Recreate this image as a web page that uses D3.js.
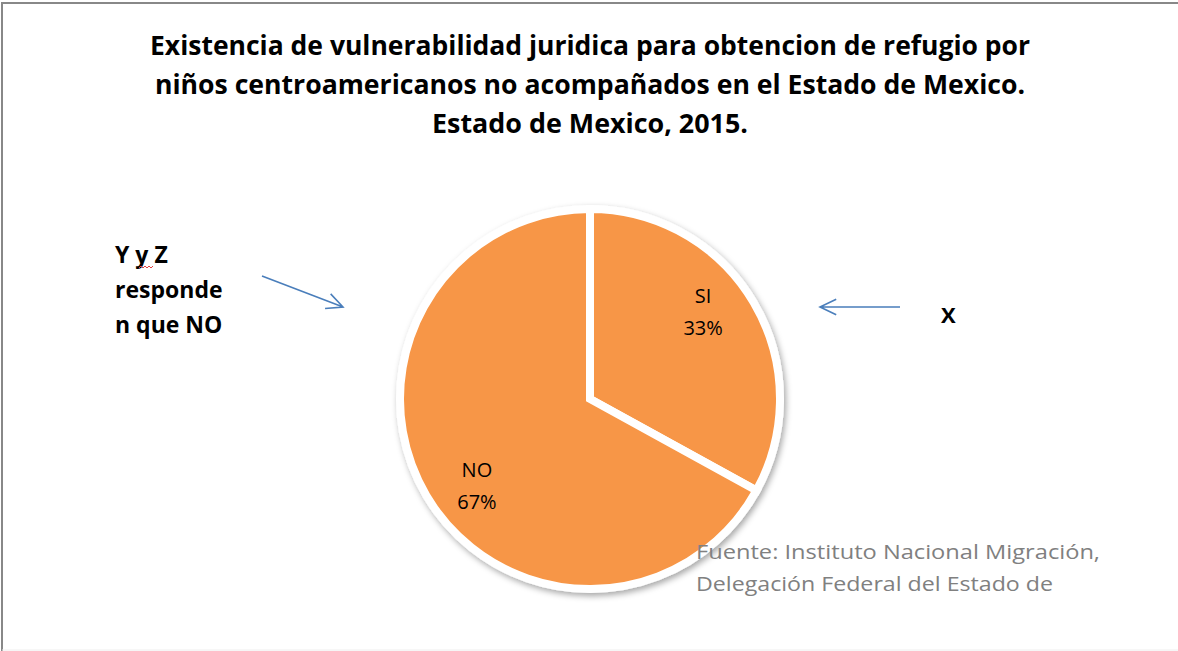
<!DOCTYPE html>
<html>
<head>
<meta charset="utf-8">
<script src="https://cdn.jsdelivr.net/npm/d3@7"></script>
<style>
  body { margin: 0; background: #fff; }
  svg { display: block; }
</style>
</head>
<body>
<div class="chart"></div>
<script>
const WIDTH = 1178, HEIGHT = 651;

const categories = ["SI", "NO"];
const values = [33, 67];
const titleLines = [
  "Existencia de vulnerabilidad juridica para obtencion de refugio por",
  "niños centroamericanos no acompañados en el Estado de Mexico.",
  "Estado de Mexico, 2015."
];
const noteLines = ["Y y Z", "responde", "n que NO"];
const sourceLines = ["Fuente: Instituto Nacional Migración,", "Delegación Federal del Estado de"];

const FONT = "'Open Sans', 'Noto Sans', sans-serif";

var svg = d3.select(".chart")
  .append("svg")
  .attr("width", WIDTH)
  .attr("height", HEIGHT);

// soft shadow like the office pie
const defs = svg.append("defs");
const shadow = defs.append("filter").attr("id", "shadow")
  .attr("x", "-20%").attr("y", "-20%").attr("width", "140%").attr("height", "140%");
shadow.append("feDropShadow")
  .attr("dx", 2).attr("dy", 3).attr("stdDeviation", 3)
  .attr("flood-color", "#000").attr("flood-opacity", 0.35);

// frame (top + left only visible)
svg.append("path")
  .attr("d", `M2,${HEIGHT} L2,3 L${WIDTH},3`)
  .attr("fill", "none")
  .attr("stroke", "#888")
  .attr("stroke-width", 2);
svg.append("line")
  .attr("x1", 2).attr("x2", WIDTH).attr("y1", HEIGHT - 1).attr("y2", HEIGHT - 1)
  .attr("stroke", "#eee");

// title
const titleWidths = [880, 870, 316];
svg.append("g").selectAll("text")
  .data(titleLines)
  .join("text")
  .attr("x", 590)
  .attr("y", (d, i) => 55 + i * 39)
  .attr("text-anchor", "middle")
  .attr("font-family", FONT)
  .attr("font-weight", "bold")
  .attr("font-size", 26)
  .attr("textLength", (d, i) => titleWidths[i])
  .attr("lengthAdjust", "spacingAndGlyphs")
  .attr("fill", "#000")
  .text(d => d);

// pie
const cx = 590, cy = 399, radius = 190;
const pie = d3.pie().sort(null).value(d => d)
  .startAngle(0).endAngle(2 * Math.PI);
const arc = d3.arc().innerRadius(0).outerRadius(radius);
const arcs = pie(values);

const pieG = svg.append("g")
  .attr("transform", `translate(${cx},${cy})`);

pieG.append("g")
  .attr("filter", "url(#shadow)")
  .selectAll("path")
  .data(arcs)
  .join("path")
  .attr("d", arc)
  .attr("fill", "#f79646")
  .attr("stroke", "#fff")
  .attr("stroke-width", 8)
  .attr("stroke-linejoin", "miter");

// labels sit a little counter-clockwise of the slice middle, as in the original
const total = d3.sum(values);
const labelR = radius * 0.75, labelShift = 0.12;
const labels = pieG.append("g").selectAll("text")
  .data(arcs)
  .join("text")
  .attr("transform", d => {
    const c = d3.pointRadial((d.startAngle + d.endAngle) / 2 - labelShift, labelR);
    return `translate(${c[0]},${c[1]})`;
  })
  .attr("text-anchor", "middle")
  .attr("font-family", FONT)
  .attr("font-size", 20)
  .attr("fill", "#000");
labels.append("tspan")
  .attr("x", 0).attr("dy", "-0.45em")
  .text((d, i) => categories[i]);
labels.append("tspan")
  .attr("x", 0).attr("dy", "1.6em")
  .text(d => Math.round(d.value / total * 100) + "%");

// left annotation
svg.append("g").selectAll("text")
  .data(noteLines)
  .join("text")
  .attr("x", 115)
  .attr("y", (d, i) => 263 + i * 35)
  .attr("font-family", FONT)
  .attr("font-weight", "bold")
  .attr("font-size", 23)
  .attr("fill", "#000")
  .text(d => d);

// spell-check squiggle under "y"
svg.append("path")
  .attr("d", "M139,268 l2,-2 l2,2 l2,-2 l2,2 l2,-2 l2,2 l2,-2")
  .attr("fill", "none")
  .attr("stroke", "#e04040")
  .attr("stroke-width", 1);

svg.append("text")
  .attr("x", 941).attr("y", 323)
  .attr("font-family", FONT)
  .attr("font-weight", "bold")
  .attr("font-size", 22)
  .attr("fill", "#000")
  .text("X");

// arrows
function arrow(x1, y1, x2, y2) {
  const a = Math.atan2(y2 - y1, x2 - x1), h = 18, w = 0.45;
  svg.append("path")
    .attr("d", `M${x1},${y1} L${x2},${y2}` +
      ` M${x2 - h * Math.cos(a - w)},${y2 - h * Math.sin(a - w)} L${x2},${y2}` +
      ` L${x2 - h * Math.cos(a + w)},${y2 - h * Math.sin(a + w)}`)
    .attr("fill", "none")
    .attr("stroke", "#4a7ebb")
    .attr("stroke-width", 1.6);
}
arrow(262, 276, 343, 307);
arrow(900, 307, 820, 307);

// source
svg.append("g").selectAll("text")
  .data(sourceLines)
  .join("text")
  .attr("x", 696)
  .attr("y", (d, i) => 559 + i * 32)
  .attr("font-family", FONT)
  .attr("font-size", 20)
  .attr("textLength", (d, i) => [404, 357][i])
  .attr("lengthAdjust", "spacingAndGlyphs")
  .attr("fill", "#808080")
  .text(d => d);
</script>
</body>
</html>
